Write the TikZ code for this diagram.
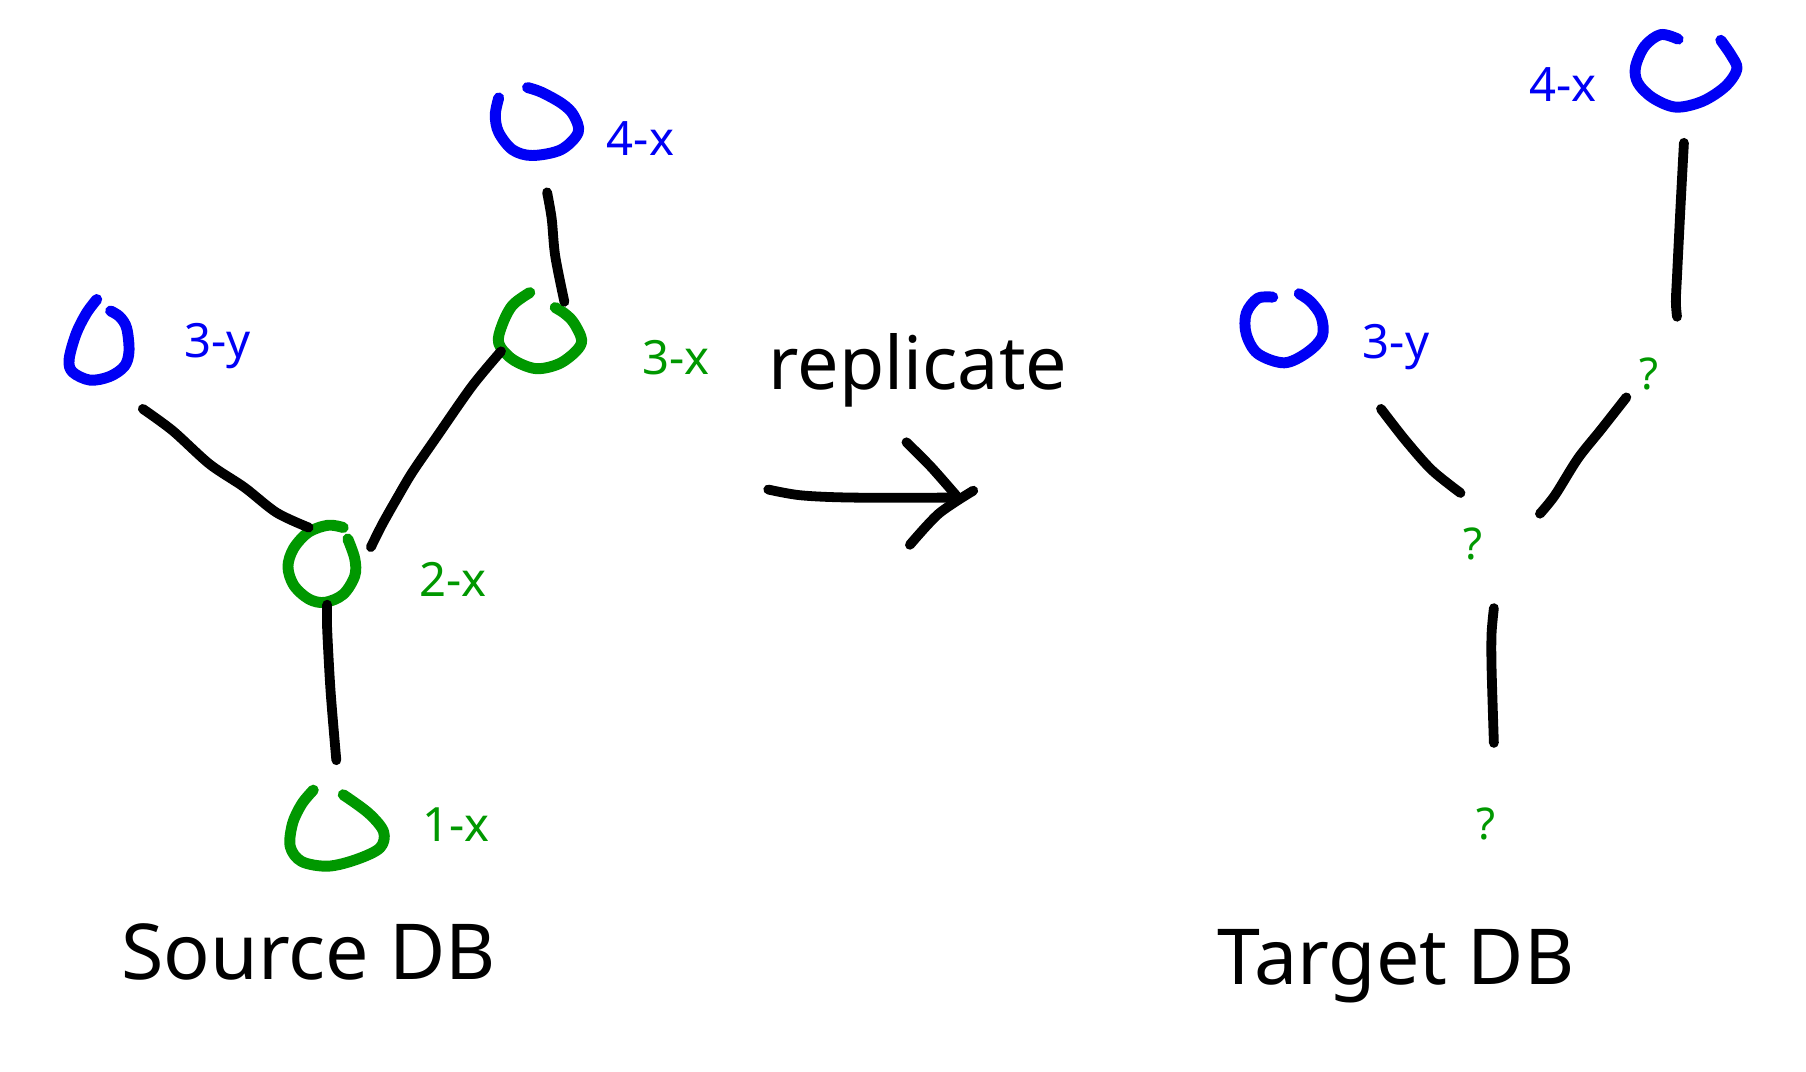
\documentclass[tikz,border=0pt]{standalone}
\usepackage{fontspec}
\setmainfont{Noto Sans}
\definecolor{hblue}{RGB}{0,0,245}
\definecolor{hgreen}{RGB}{0,152,0}
\tikzset{
  ink/.style={line cap=round, line join=round},
  bluering/.style={ink, draw=hblue, line width=9.5pt},
  greenring/.style={ink, draw=hgreen, line width=9.5pt},
  stroke/.style={ink, draw=black, line width=8.5pt},
  lblb/.style={text=hblue, font=\fontsize{41}{48}\selectfont, inner sep=0pt, anchor=base},
  lblg/.style={text=hgreen, font=\fontsize{41}{48}\selectfont, inner sep=0pt, anchor=base},
  qm/.style={text=hgreen, font=\fontsize{38}{44}\selectfont, inner sep=0pt, anchor=base},
  title/.style={text=black, font=\fontsize{67}{80}\selectfont, inner sep=0pt, anchor=base},
}
\begin{document}
\begin{tikzpicture}[x=1pt, y=-1pt]
\useasboundingbox[fill=white] (0,0) rectangle (1568,930);

% ---------- Source DB ----------
% rings
\draw[bluering] plot[smooth, tension=0.55] coordinates {(433,85) (430,100) (433,115) (445,130) (462,135) (487,130) (502,115) (498,100) (488,90) (470,80) (458,76)};
\coordinate (s4x) at (466,106);
\draw[bluering] plot[smooth, tension=0.55] coordinates {(84,260) (75,272) (66,290) (60,312) (63,323) (78,330) (95,327) (108,318) (112,305) (110,285) (104,275) (96,270)};
\coordinate (s3y) at (86,296);
\draw[greenring] plot[smooth, tension=0.55] coordinates {(460,254) (445,265) (436,282) (433,298) (445,312) (465,320) (485,316) (500,305) (505,295) (498,280) (490,272) (482,267)};
\coordinate (s3x) at (468,290);
\draw[greenring] plot[smooth, tension=0.55] coordinates {(298,458) (285,456) (268,462) (255,476) (250,492) (255,508) (268,520) (282,523) (298,516) (308,500) (308,485) (302,468)};
\coordinate (s2x) at (280,490);
\draw[greenring] plot[smooth, tension=0.55] coordinates {(272,686) (262,698) (254,715) (252,735) (262,748) (285,752) (310,746) (330,736) (333,722) (320,706) (298,690)};
\coordinate (s1x) at (292,720);

% connectors
\coordinate (a1) at (475,167); \coordinate (a2) at (490,262);
\draw[stroke] plot[smooth, tension=0.5] coordinates {(a1) (479,190) (482,222) (a2)};
\coordinate (b1) at (435,305); \coordinate (b2) at (322,475);
\draw[stroke] plot[smooth, tension=0.5] coordinates {(b1) (410,335) (380,378) (358,410) (345,432) (332,455) (b2)};
\coordinate (c1) at (124,355); \coordinate (c2) at (268,458);
\draw[stroke] plot[smooth, tension=0.5] coordinates {(c1) (150,374) (182,403) (212,423) (240,445) (c2)};
\coordinate (d1) at (284,525); \coordinate (d2) at (292,660);
\draw[stroke] plot[smooth, tension=0.5] coordinates {(d1) (284,545) (287,600) (d2)};

% labels
\node[lblb] (ls4x) at (556,135) {4-x};
\node[lblg] (ls3x) at (587,325) {3-x};
\node[lblb] (ls3y) at (189,310) {3-y};
\node[lblg] (ls2x) at (393,518) {2-x};
\node[lblg] (ls1x) at (396,731) {1-x};
\node[title] (src) at (268,850) {Source DB};

% ---------- arrow ----------
\node[title, font=\fontsize{64}{76}\selectfont] (rep) at (797,338) {replicate};
\coordinate (r1) at (667,425); \coordinate (r2) at (830,432);
\draw[stroke] plot[smooth, tension=0.5] coordinates {(r1) (695,430) (740,432) (r2)};
\coordinate (h1) at (787,384); \coordinate (h2) at (790,473);
\draw[stroke] plot[smooth, tension=0.5] coordinates {(h1) (808,405) (830,430)};
\draw[stroke] plot[smooth, tension=0.5] coordinates {(845,426) (815,446) (h2)};

% ---------- Target DB ----------
\draw[bluering] plot[smooth, tension=0.55] coordinates {(1457,34) (1442,30) (1428,40) (1420,58) (1422,72) (1435,85) (1455,93) (1478,88) (1498,75) (1508,60) (1503,48) (1494,35)};
\coordinate (t4x) at (1463,62);
\draw[bluering] plot[smooth, tension=0.55] coordinates {(1105,258) (1092,259) (1082,272) (1082,290) (1092,307) (1115,315) (1135,306) (1148,292) (1147,275) (1138,262) (1128,255)};
\coordinate (t3y) at (1115,287);

\coordinate (e1) at (1462,124); \coordinate (e2) at (1456,275);
\draw[stroke] plot[smooth, tension=0.5] coordinates {(e1) (1459,180) (1456,240) (1455,262) (e2)};
\coordinate (f1) at (1412,345); \coordinate (f2) at (1337,446);
\draw[stroke] plot[smooth, tension=0.5] coordinates {(f1) (1390,373) (1370,398) (1350,430) (f2)};
\coordinate (g1) at (1199,355); \coordinate (g2) at (1268,428);
\draw[stroke] plot[smooth, tension=0.5] coordinates {(g1) (1220,382) (1243,408) (g2)};
\coordinate (k1) at (1297,528); \coordinate (k2) at (1297,645);
\draw[stroke] plot[smooth, tension=0.5] coordinates {(k1) (1295,550) (1295,580) (k2)};

\node[lblb] (lt4x) at (1357,88) {4-x};
\node[lblb] (lt3y) at (1212,311) {3-y};
\node[qm] (q3x) at (1432,338) {?};
\node[qm] (q2x) at (1279,486) {?};
\node[qm] (q1x) at (1290,729) {?};
\node[title] (tgt) at (1212,855) {Target DB};
\end{tikzpicture}
\end{document}
